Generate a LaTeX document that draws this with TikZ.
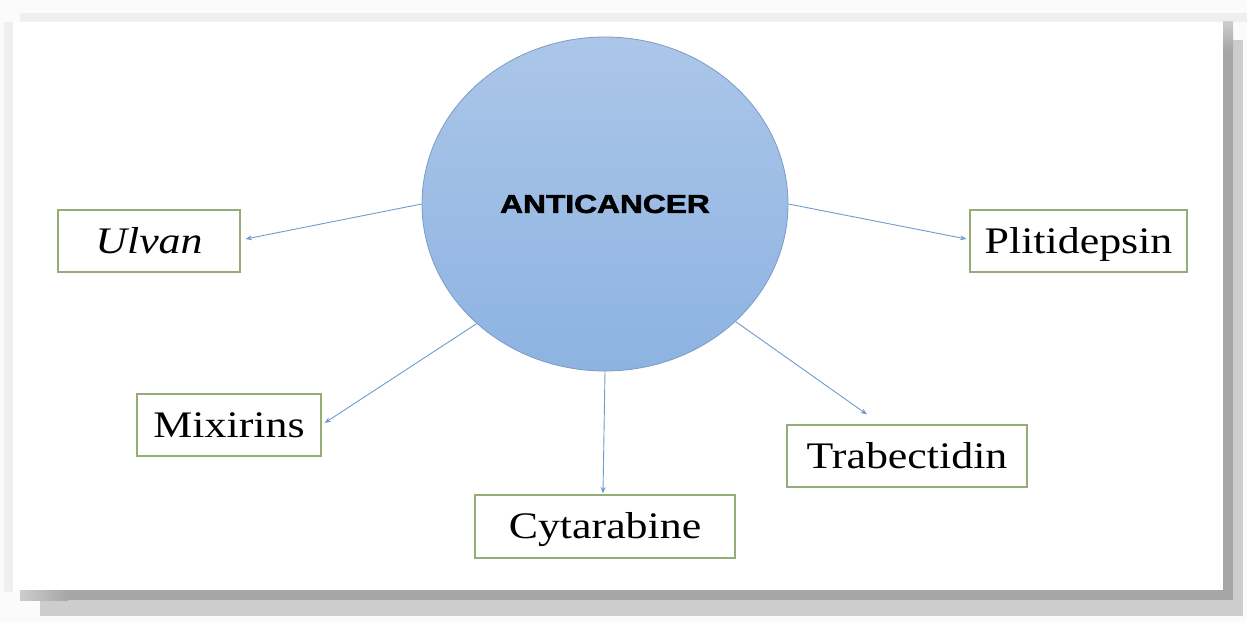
\documentclass[tikz,border=0pt]{standalone}
\usepackage{fontspec}
\setmainfont{Liberation Serif}
\newfontfamily\anticfont{Liberation Sans}[BoldFeatures={FakeBold=2}]
\usepackage{graphicx}
\usetikzlibrary{shapes.geometric,arrows.meta,calc}
\definecolor{bgcol}{HTML}{FBFBFB}
\definecolor{bandcol}{HTML}{EFEFEF}
\definecolor{shdark}{HTML}{A6A6A6}
\definecolor{shlight}{HTML}{CDCDCD}
\definecolor{circtop}{HTML}{ABC6E8}
\definecolor{circbot}{HTML}{8DB3E2}
\definecolor{circborder}{HTML}{7D9CC4}
\definecolor{arrowblue}{HTML}{6F9CCC}
\definecolor{boxgreen}{RGB}{150,172,118}
\begin{document}
\begin{tikzpicture}[x=1pt,y=-1pt,
  itembox/.style={draw=boxgreen,line width=1.1pt,fill=white,minimum height=62pt,
    inner sep=0pt,text height=24.5pt,text depth=0pt,font=\fontsize{37.5}{44}\selectfont},
  link/.style={draw=arrowblue,line width=0.9pt,-{Stealth[length=6.5pt,width=5pt]}}]
\useasboundingbox (0,0) rectangle (1247,623);
% background and page frame
\fill[bgcol] (0,0) rectangle (1247,623);
\fill[bandcol] (20,13) rectangle (1247,22);
\fill[bandcol] (4,22) rectangle (13,592);
\fill[shlight] (40,600) rectangle (1243,616);
\fill[shlight] (1233,40) rectangle (1243,616);
\shade[left color=shlight,right color=shdark] (20,590) rectangle (68,600);
\fill[shdark] (68,590) rectangle (1233,600);
\shade[top color=shlight,bottom color=shdark] (1223,22) rectangle (1233,50);
\fill[shdark] (1223,50) rectangle (1233,600);
\fill[white] (13,22) rectangle (1223,590);
% central node
\node[ellipse,minimum width=366pt,minimum height=334pt,inner sep=0pt,
  draw=circborder,line width=0.8pt,top color=circtop,bottom color=circbot,
  font=\anticfont\bfseries\fontsize{26}{30}\selectfont] (c) at (605,204)
  {\scalebox{1.22}[1]{ANTICANCER}};
% boxes
\node[itembox,minimum width=182pt] (u) at (149,241) {\scalebox{1.17}[1]{\itshape Ulvan}};
\node[itembox,minimum width=184pt] (m) at (229,425) {\scalebox{1.17}[1]{Mixirins}};
\node[itembox,minimum width=217pt] (p) at (1078.5,241) {\scalebox{1.17}[1]{Plitidepsin}};
\node[itembox,minimum width=260pt,minimum height=63pt] (cy) at (605,526.5) {\scalebox{1.17}[1]{Cytarabine}};
\node[itembox,minimum width=240pt] (t) at (907,456) {\scalebox{1.17}[1]{Trabectidin}};
% connectors
\draw[link] (c.west) -- ($(u.east)+(5,-2)$);
\draw[link] (c.east) -- ($(p.west)+(-3,-2)$);
\draw[link] (c.223) -- ($(m.east)+(3,-2)$);
\draw[link] (c.south) -- ($(cy.north)+(-2,-1)$);
\draw[link] (c.318) -- ($(t.north)+(-40,-10)$);
\end{tikzpicture}
\end{document}
